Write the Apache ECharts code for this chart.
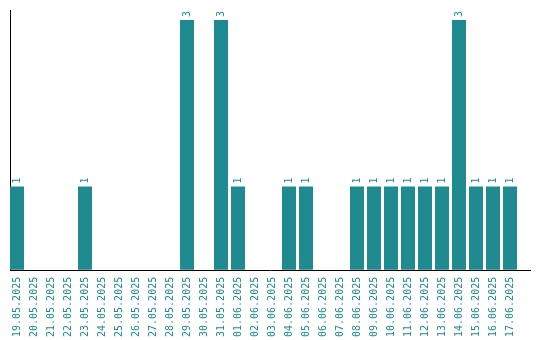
<!DOCTYPE html>
<html><head><meta charset="utf-8">
<script src="https://cdn.jsdelivr.net/npm/echarts@6/dist/echarts.min.js"></script>
<style>html,body{margin:0;padding:0;background:#fff}#c{width:540px;height:340px}</style>
</head><body><div id="c"></div>
<script>
const categories = ["19.05.2025","20.05.2025","21.05.2025","22.05.2025","23.05.2025","24.05.2025","25.05.2025","26.05.2025","27.05.2025","28.05.2025","29.05.2025","30.05.2025","31.05.2025","01.06.2025","02.06.2025","03.06.2025","04.06.2025","05.06.2025","06.06.2025","07.06.2025","08.06.2025","09.06.2025","10.06.2025","11.06.2025","12.06.2025","13.06.2025","14.06.2025","15.06.2025","16.06.2025","17.06.2025"];
const values = [1,0,0,0,1,0,0,0,0,0,3,0,3,1,0,0,1,1,0,0,1,1,1,1,1,1,3,1,1,1];
const teal = '#1f8b91';
const chart = echarts.init(document.getElementById('c'), null, {renderer:'canvas'});
chart.setOption({
  animation:false,
  grid:{left:8.5, right:21.5, top:10, bottom:70},
  xAxis:{type:'category', data:categories,
    axisLine:{show:false}, axisTick:{show:false},
    axisLabel:{interval:0, rotate:90, margin:7, color:teal, fontFamily:'DejaVu Sans Mono', fontSize:10}},
  yAxis:{type:'value', min:0, max:3.12, show:false},
  graphic:[
    {type:'line', shape:{x1:10.5,y1:10,x2:10.5,y2:270}, style:{stroke:'#000',lineWidth:1}},
    {type:'line', shape:{x1:10,y1:270.5,x2:531,y2:270.5}, style:{stroke:'#000',lineWidth:1}}
  ],
  series:[{type:'bar', data:values.map(v=>v===0?{value:0,label:{show:false}}:v), barWidth:14,
    itemStyle:{color:teal},
    label:{show:true, position:'top', rotate:90, align:'left', verticalAlign:'middle', distance:3,
      color:teal, fontFamily:'DejaVu Sans Mono', fontSize:10}}]
});
</script></body></html>
